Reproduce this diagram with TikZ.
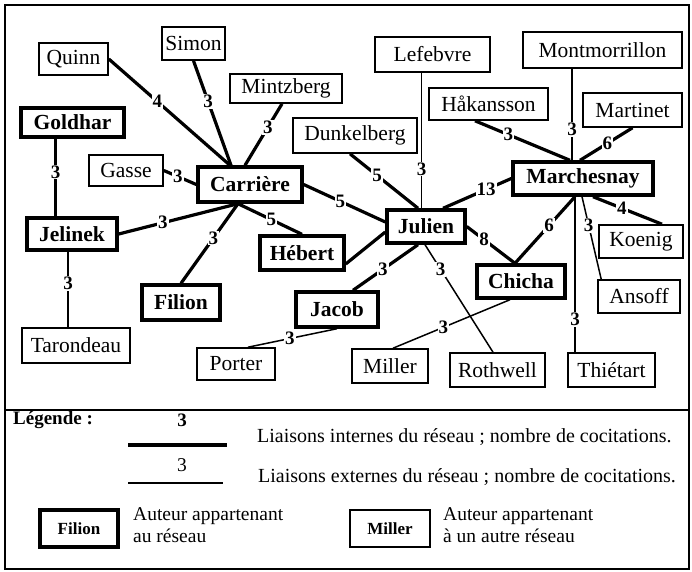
\documentclass[tikz,border=0pt]{standalone}
\usepackage{fontspec}
\setmainfont{Liberation Serif}

\begin{document}
\begin{tikzpicture}[x=1pt,y=-1pt]
                        \tikzstyle{membre}=[draw, line width=3.4pt, inner sep=0pt, font=\fontsize{21.5}{24}\selectfont\bfseries]
                        \tikzstyle{autre}=[draw, line width=1.6pt, inner sep=0pt, font=\fontsize{21.5}{24}\selectfont]
                        \tikzstyle{interne}=[line width=3.2pt]
                        \tikzstyle{externe}=[line width=1.5pt]
                        \tikzstyle{nb}=[fill=white, inner sep=1pt, font=\fontsize{19}{20}\selectfont\bfseries]
                        \tikzstyle{legtxt}=[inner sep=0pt, font=\fontsize{19.5}{22}\selectfont]
                        \useasboundingbox (0,0) rectangle (692,571);
                        \draw[line width=1.4pt] (5,5) rectangle (689,569);
                        \draw[line width=1.4pt] (5,410) -- (689,410);

                        \node[autre, minimum width=69pt, minimum height=32pt] (quinn) at (73.5,59) {Quinn};
                        \node[autre, minimum width=63pt, minimum height=33pt] (simon) at (193.5,43.5) {Simon};
                        \node[autre, minimum width=112pt, minimum height=29pt] (mintzberg) at (286,88.5) {Mintzberg};
                        \node[membre, minimum width=103pt, minimum height=29pt] (goldhar) at (72.5,122.5) {Goldhar};
                        \node[autre, minimum width=74pt, minimum height=31pt] (gasse) at (126,170.5) {Gasse};
                        \node[membre, minimum width=104pt, minimum height=35pt] (carriere) at (250,184.5) {Carrière};
                        \node[autre, minimum width=124pt, minimum height=35pt] (dunkelberg) at (355,135.5) {Dunkelberg};
                        \node[autre, minimum width=115pt, minimum height=35pt] (lefebvre) at (432.5,54.5) {Lefebvre};
                        \node[autre, minimum width=119pt, minimum height=32pt] (hakansson) at (488.5,104) {Håkansson};
                        \node[autre, minimum width=159pt, minimum height=36pt] (montmorrillon) at (602.5,50) {Montmorrillon};
                        \node[autre, minimum width=99pt, minimum height=34pt] (martinet) at (632.5,110) {Martinet};
                        \node[membre, minimum width=140pt, minimum height=33pt] (marchesnay) at (583,178.5) {Marchesnay};
                        \node[membre, minimum width=90pt, minimum height=32pt] (jelinek) at (72,234) {Jelinek};
                        \node[membre, minimum width=78pt, minimum height=33pt] (julien) at (426,226.5) {Julien};
                        \node[membre, minimum width=84pt, minimum height=34pt] (hebert) at (302,253) {Hébert};
                        \node[autre, minimum width=84pt, minimum height=33pt] (koenig) at (641,241.5) {Koenig};
                        \node[membre, minimum width=88pt, minimum height=33pt] (chicha) at (521,281.5) {Chicha};
                        \node[autre, minimum width=82pt, minimum height=33pt] (ansoff) at (639,296.5) {Ansoff};
                        \node[membre, minimum width=78pt, minimum height=35pt] (filion) at (181,302.5) {Filion};
                        \node[membre, minimum width=82pt, minimum height=35pt] (jacob) at (337,309.5) {Jacob};
                        \node[autre, minimum width=108pt, minimum height=35pt] (tarondeau) at (76,345.5) {Tarondeau};
                        \node[autre, minimum width=78pt, minimum height=32pt] (porter) at (236,364) {Porter};
                        \node[autre, minimum width=76pt, minimum height=34pt] (miller) at (390,366) {Miller};
                        \node[autre, minimum width=95pt, minimum height=34pt] (rothwell) at (497.5,370) {Rothwell};
                        \node[autre, minimum width=87pt, minimum height=34pt] (thietart) at (611.5,370) {Thiétart};

                        \draw[interne] (quinn.east) -- node[nb, pos=0.4] {4} ([xshift=-20pt]carriere.north);
                        \draw[interne] (simon.south) -- node[nb, pos=0.39] {3} ([xshift=-19pt]carriere.north);
                        \draw[interne] ([xshift=-4pt]mintzberg.south) -- node[nb, pos=0.38] {3} ([xshift=-5pt]carriere.north);
                        \draw[interne] (gasse.east) -- node[nb, pos=0.43] {3} (carriere.west);
                        \draw[interne] ([xshift=-17pt]goldhar.south) -- node[nb, pos=0.43] {3} ([xshift=-17pt]goldhar.south |- jelinek.north);
                        \draw[externe] ([xshift=-4pt]jelinek.south) -- node[nb, pos=0.42] {3} ([xshift=-4pt]jelinek.south |- tarondeau.north);
                        \draw[interne] (jelinek.east) -- node[nb, pos=0.37] {3} ([xshift=-12pt]carriere.south);
                        \draw[interne] ([xshift=-12pt]carriere.south) -- node[nb, pos=0.43] {3} (filion.north);
                        \draw[interne] ([xshift=-12pt]carriere.south) -- node[nb, pos=0.52] {5} (hebert.north);
                        \draw[interne] (carriere.east) -- node[nb, pos=0.45] {5} ([yshift=4.5pt]julien.west);
                        \draw[interne] ([xshift=-5pt]dunkelberg.south) -- node[nb, pos=0.4] {5} ([xshift=-8pt]julien.north);
                        \draw[externe] ([xshift=-11pt]lefebvre.south) -- node[nb, pos=0.71] {3} ([xshift=-11pt]lefebvre.south |- julien.north);
                        \draw[interne] ([yshift=-5.5pt]julien.west) -- ([yshift=-11pt]hebert.east);
                        \draw[interne] ([xshift=17pt]julien.north) -- node[nb, pos=0.63] {13} (marchesnay.west);
                        \draw[interne] ([xshift=-13.5pt]hakansson.south) -- node[nb, pos=0.35] {3} ([xshift=-13pt]marchesnay.north);
                        \draw[externe] ([xshift=-30.5pt]montmorrillon.south) -- node[nb, pos=0.66] {3} ([xshift=-30.5pt]montmorrillon.south |- marchesnay.north);
                        \draw[interne] (martinet.south) -- node[nb, pos=0.48] {6} ([xshift=-3pt]marchesnay.north);
                        \draw[interne] (julien.east) -- node[nb, pos=0.36] {8} ([xshift=-6pt]chicha.north);
                        \draw[interne] ([xshift=-8pt]marchesnay.south) -- node[nb, pos=0.43] {6} ([xshift=-6pt]chicha.north);
                        \draw[externe] ([xshift=-8pt]marchesnay.south) -- node[nb, pos=0.79] {3} ([xshift=-8pt]marchesnay.south |- thietart.north);
                        \draw[externe] ([xshift=-1pt]marchesnay.south) -- node[nb, pos=0.35] {3} ([xshift=4pt]ansoff.north west);
                        \draw[interne] ([xshift=10pt]marchesnay.south) -- node[nb, pos=0.42] {4} ([xshift=21pt]koenig.north);
                        \draw[interne] ([xshift=-8pt]julien.south) -- node[nb, pos=0.54] {3} ([xshift=16pt]jacob.north);
                        \draw[externe] ([xshift=-1pt]julien.south) -- node[nb, pos=0.23] {3} ([xshift=-4.5pt]rothwell.north);
                        \draw[externe] ([xshift=-11pt]chicha.south) -- node[nb, pos=0.57] {3} ([xshift=3pt]miller.north);
                        \draw[externe] (jacob.south) -- node[nb, pos=0.53] {3} ([xshift=12pt]porter.north);

                        \node[legtxt, anchor=west, font=\fontsize{19}{22}\selectfont\bfseries] (legende) at (13,420) {Légende :};
                        \node[legtxt, font=\fontsize{19}{22}\selectfont\bfseries] (nbint) at (182,420) {3};
                        \coordinate (inta) at (128,445);
                        \coordinate (intb) at (227,445);
                        \draw[interne] (inta) -- (intb);
                        \node[legtxt, anchor=west, font=\fontsize{20}{22}\selectfont] (txtint) at (257,437) {Liaisons internes du réseau ; nombre de cocitations.};
                        \node[legtxt] (nbext) at (182,465) {3};
                        \coordinate (exta) at (128,483);
                        \coordinate (extb) at (223,483);
                        \draw[externe] (exta) -- (extb);
                        \node[legtxt, anchor=west, font=\fontsize{20}{22}\selectfont] (txtext) at (258,477) {Liaisons externes du réseau ; nombre de cocitations.};
                        \node[membre, minimum width=78pt, minimum height=37pt, font=\fontsize{17}{20}\selectfont\bfseries] (legfilion) at (79,528.5) {Filion};
                        \node[legtxt, anchor=north west, align=left] (txtmembre) at (133,507) {Auteur appartenant\\au réseau};
                        \node[autre, minimum width=80pt, minimum height=37pt, font=\fontsize{17}{20}\selectfont\bfseries] (legmiller) at (390,528.5) {Miller};
                        \node[legtxt, anchor=north west, align=left] (txtautre) at (443,507) {Auteur appartenant\\à un autre réseau};
                    \end{tikzpicture}
\end{document}
